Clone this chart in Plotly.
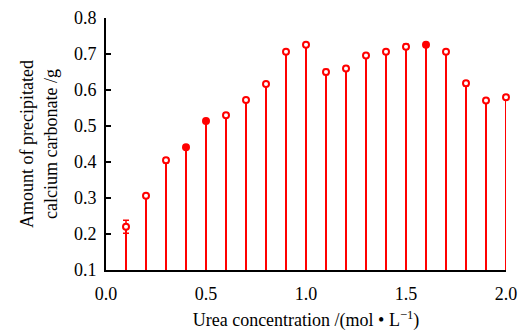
import plotly.graph_objects as go

urea = [0.1, 0.2, 0.3, 0.4, 0.5, 0.6, 0.7, 0.8, 0.9, 1.0,
        1.1, 1.2, 1.3, 1.4, 1.5, 1.6, 1.7, 1.8, 1.9, 2.0]
caco3 = [0.220, 0.306, 0.405, 0.441, 0.514, 0.530, 0.572, 0.617, 0.706, 0.726,
         0.650, 0.660, 0.696, 0.706, 0.720, 0.726, 0.706, 0.619, 0.571, 0.580]
err = [0.018, 0.003, 0.007, 0.0, 0.0, 0.006, 0.004, 0.004, 0.005, 0.004,
       0.007, 0.005, 0.005, 0.005, 0.007, 0.0, 0.005, 0.007, 0.004, 0.006]
y_base = 0.1

RED = "#ff0000"
FONT = "Liberation Serif"

fig = go.Figure()
fig.add_trace(go.Bar(
    x=urea, y=[v - y_base for v in caco3], base=y_base, width=0.011,
    marker=dict(color=RED, line=dict(width=0)), cliponaxis=False,
    showlegend=False, hoverinfo="skip"))
fig.add_trace(go.Scatter(
    x=urea, y=caco3, mode="markers", cliponaxis=False,
    marker=dict(symbol="circle", size=6, color=["white" if e > 0 else RED for e in err],
                line=dict(color=RED, width=2)),
    error_y=dict(type="data", array=err, visible=True, color=RED, thickness=1.5, width=3),
    showlegend=False))

fig.update_layout(
    width=522, height=333,
    margin=dict(l=106, r=16, t=18, b=63),
    paper_bgcolor="white", plot_bgcolor="white",
    font=dict(family=FONT, size=18, color="black"),
    xaxis=dict(range=[0, 2.0], tickvals=[0, 0.5, 1.0, 1.5, 2.0],
               ticktext=["0.0", "0.5", "1.0", "1.5", "2.0"], automargin=False,
               showgrid=False, zeroline=False, showline=True, linecolor="black", linewidth=2,
               ticks="", ticklabelstandoff=6,
               title=dict(text="Urea concentration /(mol • L<sup>−1</sup>)", standoff=11,
                          font=dict(family=FONT, size=18))),
    yaxis=dict(range=[0.1, 0.8], tickvals=[0.1, 0.2, 0.3, 0.4, 0.5, 0.6, 0.7, 0.8],
               ticktext=["0.1", "0.2", "0.3", "0.4", "0.5", "0.6", "0.7", "0.8"], automargin=False,
               showgrid=False, zeroline=False, showline=True, linecolor="black", linewidth=2,
               ticks="inside", ticklen=5, tickwidth=2, tickcolor="black", ticklabelstandoff=4,
               title=dict(text="Amount of precipitated<br>calcium carbonate /g", standoff=12,
                          font=dict(family=FONT, size=18))),
    bargap=0,
)

fig.write_html("out.html", config={"displayModeBar": False},
               post_script="document.body.style.margin='0px';")
